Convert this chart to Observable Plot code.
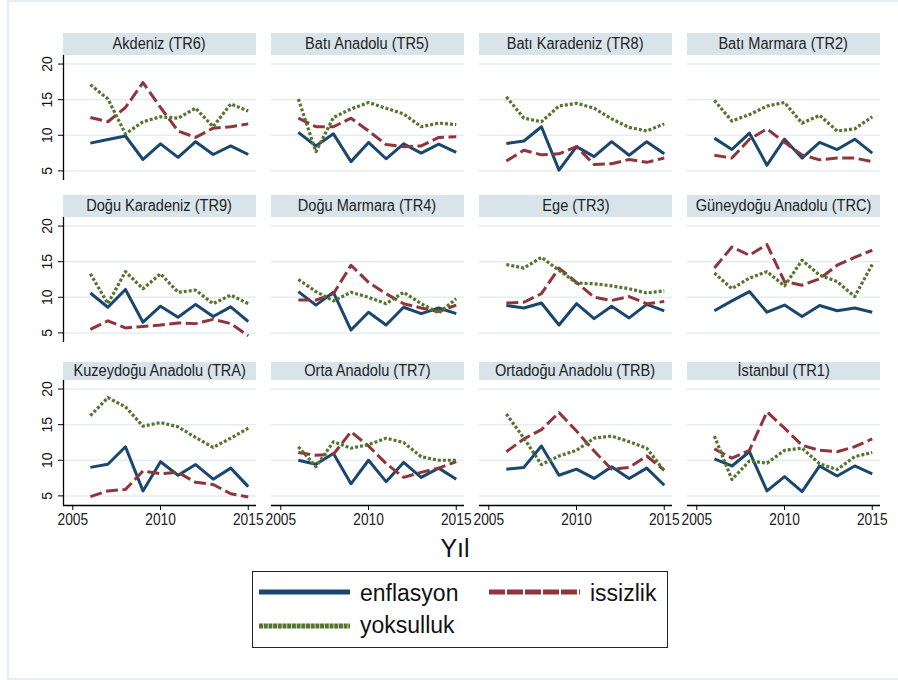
<!DOCTYPE html>
<html><head><meta charset="utf-8">
<script src="https://cdn.jsdelivr.net/npm/d3@7"></script>
<script src="https://cdn.jsdelivr.net/npm/@observablehq/plot@0.6"></script>
<style>
html,body{margin:0;padding:0;background:#fff;}
#root{position:relative;width:898px;height:680px;overflow:hidden;font-family:"Liberation Sans",Arial,sans-serif;background:#fff;}
.border{position:absolute;left:7px;top:0;width:900px;height:680px;border:2px solid #e6eef1;box-sizing:border-box;}
.hdr{position:absolute;background:#d8e4ea;text-align:center;color:#222;font-size:16px;white-space:nowrap;overflow:hidden;}
.hdr span{display:inline-block;transform:scaleX(0.91);transform-origin:center;}
.panel{position:absolute;}
.panel svg{overflow:visible;}
#legend{position:absolute;left:252px;top:571px;width:416px;height:77px;border:1px solid #222;box-sizing:border-box;}
#xtitle{position:absolute;left:355px;width:200px;top:536px;text-align:center;font-size:25px;line-height:25px;color:#111;}
</style></head><body><div id="root"></div>
<script>
// ---- data ----
const years = [2006, 2007, 2008, 2009, 2010, 2011, 2012, 2013, 2014, 2015];
const regions = ["Akdeniz (TR6)", "Batı Anadolu (TR5)", "Batı Karadeniz (TR8)", "Batı Marmara (TR2)",
  "Doğu Karadeniz (TR9)", "Doğu Marmara (TR4)", "Ege (TR3)", "Güneydoğu Anadolu (TRC)",
  "Kuzeydoğu Anadolu (TRA)", "Orta Anadolu (TR7)", "Ortadoğu Anadolu (TRB)", "İstanbul (TR1)"];
const seriesNames = ["enflasyon", "issizlik", "yoksulluk"];
const seriesColors = ["#1a476f", "#90353b", "#55752f"];
const xTicks = [2005, 2010, 2015];
const yTicks = [5, 10, 15, 20];

const enflasyon = [
  [8.9, 9.4, 9.9, 6.6, 8.8, 6.9, 9.1, 7.3, 8.5, 7.3],
  [10.4, 8.5, 10.2, 6.3, 9.0, 6.7, 8.8, 7.5, 8.75, 7.6],
  [8.84, 9.2, 11.2, 5.1, 8.4, 7.0, 9.1, 7.2, 9.1, 7.4],
  [9.6, 8.0, 10.3, 5.8, 9.45, 6.8, 9.0, 8.0, 9.45, 7.5],
  [10.6, 8.6, 11.1, 6.5, 8.75, 7.2, 9.0, 7.3, 8.65, 6.6],
  [10.8, 8.9, 10.7, 5.4, 7.9, 6.1, 8.6, 7.7, 8.5, 7.7],
  [8.85, 8.5, 9.2, 6.1, 9.1, 7.0, 8.75, 7.1, 9.0, 8.1],
  [8.1, 9.5, 10.8, 7.9, 8.9, 7.3, 8.85, 8.1, 8.5, 7.9],
  [9.0, 9.45, 11.9, 5.7, 9.8, 7.9, 9.4, 7.35, 8.9, 6.3],
  [10.0, 9.45, 10.95, 6.7, 10.0, 7.0, 9.7, 7.6, 8.9, 7.35],
  [8.75, 9.0, 12.0, 7.9, 8.75, 7.45, 9.1, 7.45, 8.9, 6.5],
  [10.2, 9.2, 11.2, 5.7, 7.7, 5.6, 9.2, 7.8, 9.2, 8.1]
];
const issizlik = [
  [12.5, 11.9, 13.9, 17.4, 13.9, 10.6, 9.7, 11.0, 11.2, 11.6],
  [12.4, 11.2, 11.2, 12.4, 10.6, 8.7, 8.4, 8.5, 9.7, 9.8],
  [6.4, 7.9, 7.25, 7.4, 8.4, 5.9, 6.0, 6.6, 6.2, 6.8],
  [7.2, 6.8, 9.45, 10.9, 9.0, 7.25, 6.55, 6.8, 6.8, 6.3],
  [5.5, 6.7, 5.7, 5.9, 6.1, 6.4, 6.3, 6.9, 6.3, 4.6],
  [9.6, 9.6, 10.5, 14.5, 12.1, 10.5, 9.1, 8.5, 8.0, 8.9],
  [9.2, 9.3, 10.5, 14.1, 12.1, 10.0, 9.55, 10.1, 9.1, 9.4],
  [14.1, 17.05, 15.9, 17.4, 12.2, 11.7, 12.6, 14.5, 15.6, 16.6],
  [4.9, 5.7, 5.9, 8.5, 8.1, 8.3, 6.9, 6.6, 5.3, 4.85],
  [11.1, 10.7, 10.85, 14.0, 12.0, 9.55, 7.6, 8.3, 8.9, 9.8],
  [11.2, 13.0, 14.3, 16.7, 14.1, 11.3, 8.75, 9.0, 10.6, 8.6],
  [11.6, 10.3, 11.4, 16.8, 14.5, 12.1, 11.4, 11.2, 11.9, 13.0]
];
const yoksulluk = [
  [17.1, 15.1, 10.2, 11.9, 12.6, 12.4, 13.8, 11.2, 14.4, 13.4],
  [15.1, 7.7, 12.5, 13.7, 14.6, 13.8, 13.0, 11.2, 11.7, 11.5],
  [15.4, 12.4, 11.9, 14.1, 14.5, 13.8, 12.3, 11.1, 10.6, 11.6],
  [14.9, 12.0, 12.9, 14.1, 14.6, 11.7, 12.8, 10.6, 10.9, 12.6],
  [13.3, 9.1, 13.6, 11.2, 13.3, 10.7, 11.0, 9.1, 10.3, 9.1],
  [12.5, 10.8, 9.5, 10.7, 10.0, 9.1, 10.7, 9.1, 7.8, 9.8],
  [14.6, 14.1, 15.6, 13.8, 12.0, 11.9, 11.6, 11.2, 10.6, 10.9],
  [13.4, 11.2, 12.7, 13.6, 11.6, 15.2, 13.1, 12.2, 10.1, 14.6],
  [16.25, 18.8, 17.5, 14.8, 15.3, 14.7, 13.2, 11.8, 13.1, 14.5],
  [11.9, 9.1, 12.6, 11.7, 12.2, 13.1, 12.5, 10.5, 10.0, 10.0],
  [16.5, 13.1, 9.4, 10.6, 11.4, 13.1, 13.4, 12.6, 11.7, 8.5],
  [13.4, 7.3, 9.9, 9.6, 11.4, 11.7, 9.5, 8.7, 10.5, 11.1]
];
const seriesData = [enflasyon, issizlik, yoksulluk];

// ---- styles / layout ----
const seriesDash = [null, "12,4.5", "3,2"];
const seriesWidth = [3, 3, 3.2];
const legendDash = [null, "16,2", "4,0.7"];
const COL_X = [63, 271, 479, 687];
const PW = 193, PH = 125;
const ROW_TOP = [55, 217, 380];
const HDR = [{top: 33, h: 22}, {top: 195, h: 22}, {top: 361.5, h: 18.5}];
const ML = 30, MR = 14, MB = 34;
const xDomain = [2004.47, 2015.47];
const yDomain = [3.65, 21.2];
const GRID = "#e5edf0";

const root = document.getElementById("root");
const border = document.createElement("div");
border.className = "border";
root.appendChild(border);

regions.forEach((name, i) => {
  const r = Math.floor(i / 4), c = i % 4;
  const hdr = document.createElement("div");
  hdr.className = "hdr";
  Object.assign(hdr.style, {left: COL_X[c] + "px", width: PW + "px", top: HDR[r].top + "px",
    height: HDR[r].h + "px", lineHeight: HDR[r].h + "px"});
  const sp = document.createElement("span");
  sp.textContent = name;
  hdr.appendChild(sp);
  root.appendChild(hdr);

  const marks = [Plot.ruleY(yTicks, {stroke: GRID, strokeWidth: 1.5})];
  if (c === 0) {
    marks.push(
      Plot.ruleX([xDomain[0]], {stroke: "#000", strokeWidth: 1.3}),
      Plot.axisY({ticks: yTicks, tickSize: 5, tickFormat: () => "", label: null, stroke: "#000"}),
      Plot.text(yTicks, {y: d => d, text: d => String(d), frameAnchor: "left", dx: -16, rotate: -90,
        fontSize: 14, fill: "#111", textAnchor: "middle", lineAnchor: "middle"})
    );
  }
  if (r === 2) {
    marks.push(
      Plot.ruleY([yDomain[0]], {stroke: "#000", strokeWidth: 1.3}),
      Plot.axisX({ticks: xTicks, tickSize: 5, tickPadding: 3, tickFormat: d => String(d), label: null,
        stroke: "#000", fill: "#222", fontSize: 16})
    );
  }
  seriesData.forEach((arr, s) => {
    const data = years.map((y, k) => ({year: y, value: arr[i][k]}));
    marks.push(Plot.line(data, {x: "year", y: "value", stroke: seriesColors[s], strokeWidth: seriesWidth[s],
      strokeDasharray: seriesDash[s], strokeLinejoin: "round", strokeLinecap: "butt"}));
  });

  const svg = Plot.plot({
    width: ML + PW + MR, height: PH + MB,
    marginLeft: ML, marginRight: MR, marginTop: 0, marginBottom: MB,
    x: {domain: xDomain, axis: null},
    y: {domain: yDomain, axis: null},
    style: {fontFamily: '"Liberation Sans", Arial, sans-serif', fontSize: "16px", background: "transparent", overflow: "visible", color: "#111"},
    marks
  });
  // condensed x tick labels as in the reference
  svg.querySelectorAll('g[aria-label="x-axis tick label"] text').forEach(t => {
    const tr = t.getAttribute("transform");
    if (tr) t.setAttribute("transform", tr + " scale(0.86,1)");
    else { t.style.transformBox = "fill-box"; t.style.transformOrigin = "center"; t.style.transform = "scaleX(0.86)"; }
  });
  const wrap = document.createElement("div");
  wrap.className = "panel";
  wrap.style.left = (COL_X[c] - ML) + "px";
  wrap.style.top = ROW_TOP[r] + "px";
  wrap.appendChild(svg);
  root.appendChild(wrap);
});

// x title
const xt = document.createElement("div");
xt.id = "xtitle";
xt.textContent = "Yıl";
root.appendChild(xt);

// legend
const leg = document.createElement("div");
leg.id = "legend";
root.appendChild(leg);
const lsvg = d3.create("svg").attr("width", 414).attr("height", 75)
  .style("position", "absolute").style("left", "0px").style("top", "0px");
const legPos = [{x: 6, y: 20, tx: 107, ty: 29}, {x: 236, y: 20, tx: 337, ty: 29}, {x: 6, y: 54, tx: 107, ty: 61}];
seriesNames.forEach((nm, s) => {
  const p = legPos[s];
  lsvg.append("line").attr("x1", p.x).attr("x2", p.x + 91).attr("y1", p.y).attr("y2", p.y)
    .attr("stroke", seriesColors[s]).attr("stroke-width", 5)
    .attr("stroke-dasharray", legendDash[s]);
  lsvg.append("text").attr("x", p.tx).attr("y", p.ty).text(nm)
    .attr("font-family", '"Liberation Sans", Arial, sans-serif').attr("font-size", 23).attr("fill", "#111");
});
leg.appendChild(lsvg.node());
</script>
</body></html>
